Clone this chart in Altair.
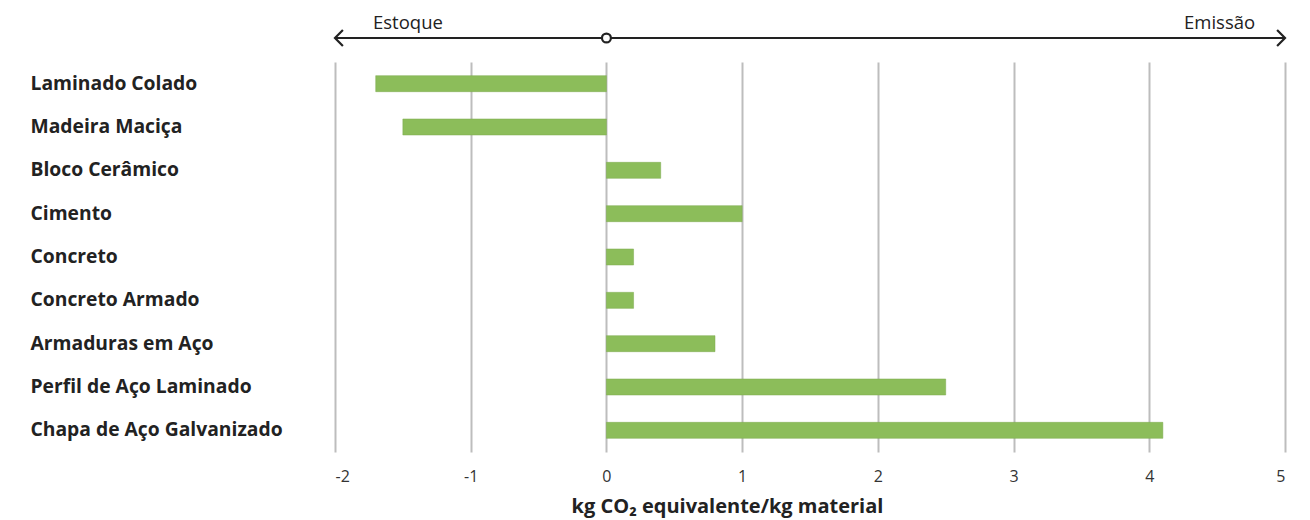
import altair as alt
import pandas as pd

materials = ["Laminado Colado", "Madeira Maciça", "Bloco Cerâmico", "Cimento", "Concreto",
             "Concreto Armado", "Armaduras em Aço", "Perfil de Aço Laminado", "Chapa de Aço Galvanizado"]
values = [-1.7, -1.5, 0.4, 1.0, 0.2, 0.2, 0.8, 2.5, 4.1]
x_ticks = [-2, -1, 0, 1, 2, 3, 4, 5]
arrow_ends = [-2, 5]
left_label = ["Estoque"]
left_label_x = [-1.72]
right_label = ["Emissão"]
right_label_x = [4.78]

df = pd.DataFrame({"material": materials, "value": values})
ends = pd.DataFrame({"x": arrow_ends, "side": ["left", "right"]})

FONT = "Open Sans"
xscale = alt.Scale(domain=[-2, 5], nice=False, zero=False)

bars = alt.Chart(df).mark_bar(color="#8CBD5A", stroke="#7DAA4E", strokeWidth=0.5).encode(
    x=alt.X("value:Q", scale=xscale,
            axis=alt.Axis(values=x_ticks, grid=True, gridColor="#BDBDBD", gridWidth=2,
                          domain=False, ticks=False, labelFontSize=16, labelColor="#333333",
                          labelFont=FONT, labelPadding=16, labelExpr="datum.value + ''",
                          title="kg CO₂ equivalente/kg material", titleFont=FONT,
                          titleFontSize=20, titleFontWeight="bold", titleColor="#222222",
                          titleX=392, titleY=54, titleAlign="center", titleBaseline="middle")),
    x2=alt.datum(0),
    y=alt.Y("material:N", sort=materials,
            scale=alt.Scale(paddingInner=0.63, paddingOuter=0.315),
            axis=alt.Axis(title=None, domain=False, ticks=False, labelAlign="left",
                          labelPadding=305, labelFont=FONT, labelFontSize=19.3,
                          labelFontWeight="bold", labelColor="#222222", labelLimit=400)),
)

line = alt.Chart(ends).mark_rule(color="#222222", strokeWidth=2).encode(
    x=alt.X("min(x):Q", scale=xscale), x2="max(x):Q", y=alt.value(-24))

heads = alt.Chart(ends).mark_point(filled=False, color="#222222", strokeWidth=2.2, size=250,
                                   shape="M 1 -1 L 0 0 L 1 1", opacity=1).encode(
    x=alt.X("x:Q", scale=xscale),
    y=alt.value(-24),
    angle=alt.Angle("side:N", scale=alt.Scale(domain=["left", "right"], range=[0, 180]), legend=None),
)

origin = alt.Chart(pd.DataFrame({"x": [0]})).mark_point(
    filled=True, fill="white", stroke="#222222", strokeWidth=2.2, size=80, opacity=1).encode(
    x=alt.X("x:Q", scale=xscale), y=alt.value(-24))

text_left = alt.Chart(pd.DataFrame({"x": left_label_x, "text": left_label})).mark_text(
    font=FONT, fontSize=18.5, color="#222222", baseline="alphabetic", align="left").encode(
    x=alt.X("x:Q", scale=xscale), y=alt.value(-33), text="text:N")

text_right = alt.Chart(pd.DataFrame({"x": right_label_x, "text": right_label})).mark_text(
    font=FONT, fontSize=18.5, color="#222222", baseline="alphabetic", align="right").encode(
    x=alt.X("x:Q", scale=xscale), y=alt.value(-33), text="text:N")

chart = alt.layer(bars, line, heads, origin, text_left, text_right).properties(
    width=950, height=390,
    background="white",
    autosize=alt.AutoSizeParams(type="none"),
    padding={"left": 335, "top": 62, "right": 25, "bottom": 68},
).configure_view(stroke=None)

chart.save("out.html", embed_options={"renderer": "svg", "actions": False})
